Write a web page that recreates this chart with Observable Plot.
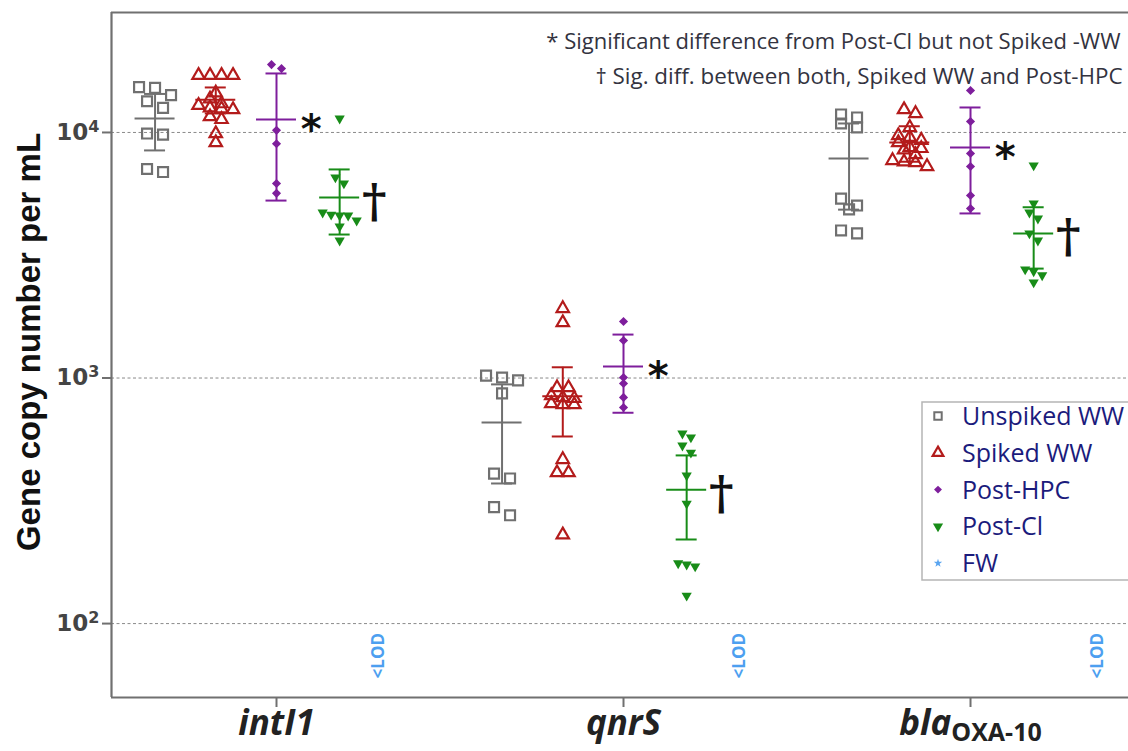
<!DOCTYPE html>
<html><head><meta charset="utf-8">
<script src="https://cdn.jsdelivr.net/npm/d3@7"></script>
<script src="https://cdn.jsdelivr.net/npm/@observablehq/plot@0.6"></script>
<style>
body{margin:0;background:#fff;}
#chart{position:relative;width:1128px;height:751px;overflow:hidden;background:#fff;}
</style></head><body><div id="chart"></div>
<script>
// ---------------- DATA ----------------
const genes = ["intI1", "qnrS", "blaOXA-10"];
const seriesNames = ["Unspiked WW", "Spiked WW", "Post-HPC", "Post-Cl", "FW"];
const yTicks = [100, 1000, 10000];
const yTickLabels = ["10²", "10³", "10⁴"];

// individual measurements (gene copies / mL)
const intI1Unspiked = [15300, 15200, 14200, 13400, 12600, 9900, 9800, 7100, 6900];
const intI1Spiked   = [17100, 17100, 17100, 17100, 14500, 13700, 13100, 12900, 12600, 12500, 12400, 11600, 11300, 9900, 9100];
const intI1HPC      = [18900, 18200, 10200, 9000, 6200, 5650];
const intI1Cl       = [11400, 6560, 6200, 4720, 4630, 4590, 4590, 4380, 4140, 3630];

const qnrSUnspiked  = [1023, 1005, 978, 866, 408, 390, 298, 276];
const qnrSSpiked    = [1920, 1683, 914, 914, 849, 832, 826, 787, 780, 780, 466, 412, 412, 230];
const qnrSHPC       = [1698, 1421, 1005, 950, 834, 759];
const qnrSCl        = [594, 573, 531, 497, 401, 308, 176, 174, 171, 130];

const blaUnspiked   = [11840, 11510, 10880, 10480, 5380, 5040, 4860, 3990, 3880];
const blaSpiked     = [12400, 11950, 10480, 9720, 9550, 9300, 9100, 8690, 8610, 8500, 8130, 7690, 7600, 7540, 7270];
const blaHPC        = [14830, 11090, 8210, 7270, 5540, 4900];
const blaCl         = [7340, 5140, 4720, 4460, 3880, 3630, 2770, 2720, 2620, 2450];

// summary: mean and mean ± SD, per gene [intI1, qnrS, bla]
const unspikedMean = [11400, 659, 7830];
const unspikedLow  = [8450, 372, 4850];
const unspikedHigh = [14350, 942, 10880];
const spikedMean   = [13600, 842, 9100];
const spikedLow    = [11950, 578, 7600];
const spikedHigh   = [15250, 1106, 10600];
const hpcMean      = [11300, 1114, 8690];
const hpcLow       = [5280, 722, 4680];
const hpcHigh      = [17390, 1503, 12640];
const clMean       = [5430, 351, 3880];
const clLow        = [3840, 220, 2790];
const clHigh       = [7070, 484, 4960];

// significance markers
const sigSeries  = ["Post-HPC", "Post-Cl"];
const sigSymbols = ["*", "†"];
const noteLines = ["* Significant difference from Post-Cl but not Spiked -WW",
                   "† Sig. diff. between both, Spiked WW and Post-HPC"];
const lodLabel = "<LOD";
const yLabel = "Gene copy number per mL";

// ---------------- LAYOUT / STYLE ----------------
const W = 1128, H = 751;
const mL = 111, mR = 0, mT = 12, mB = 54;
const yMin = 50, yMax = 30800;
const xMin = -0.4755, xMax = 2.4553;
const colors = ["#707070", "#b31b1b", "#7e1e9c", "#188c18", "#5aa5f0"];
const seriesOffset = [-0.35, -0.175, 0, 0.182];
const lodOffset = [0.295, 0.335, 0.367];
const lodY = 74;

const downTriangle = {
  draw(ctx, size) {
    const a = Math.sqrt(size * 4 / Math.sqrt(3));
    const h = a * Math.sqrt(3) / 2;
    ctx.moveTo(-a / 2, -h / 3);
    ctx.lineTo(a / 2, -h / 3);
    ctx.lineTo(0, 2 * h / 3);
    ctx.closePath();
  }
};
const symbolSpec = [
  {symbol: "square", r: 5.6, fill: "none", strokeWidth: 2.2, spacing: 16, rowH: 9},
  {symbol: "triangle", r: 4.6, fill: "none", strokeWidth: 2.2, spacing: 11.5, rowH: 6},
  {symbol: "diamond2", r: 4.1, fill: colors[2], strokeWidth: 0, spacing: 10, rowH: 5},
  {symbol: downTriangle, r: 3.8, fill: colors[3], strokeWidth: 0, spacing: 8.5, rowH: 8}
];

const valuesBy = [
  [intI1Unspiked, qnrSUnspiked, blaUnspiked],
  [intI1Spiked, qnrSSpiked, blaSpiked],
  [intI1HPC, qnrSHPC, blaHPC],
  [intI1Cl, qnrSCl, blaCl]
];
const meansBy = [unspikedMean, spikedMean, hpcMean, clMean];
const lowsBy = [unspikedLow, spikedLow, hpcLow, clLow];
const highsBy = [unspikedHigh, spikedHigh, hpcHigh, clHigh];

const innerH = H - mT - mB;
const py = v => mT + (Math.log10(yMax) - Math.log10(v)) / (Math.log10(yMax) - Math.log10(yMin)) * innerH;
const pxPerUnit = (W - mL - mR) / (xMax - xMin);

// Prism-like column scatter: rows of near-equal values spread symmetrically
function columnScatter(values, spacing, rowH) {
  const pts = values.map(v => ({v, y: py(v)})).sort((a, b) => a.y - b.y);
  const rows = [];
  for (const p of pts) {
    const row = rows[rows.length - 1];
    if (row && p.y - row[0].y < rowH) row.push(p); else rows.push([p]);
  }
  for (const row of rows) row.forEach((p, j) => p.off = (j - (row.length - 1) / 2) * spacing);
  return pts;
}

const points = [];
const summary = [];
seriesNames.slice(0, 4).forEach((s, si) => {
  genes.forEach((g, gi) => {
    const cx = gi + seriesOffset[si];
    columnScatter(valuesBy[si][gi], symbolSpec[si].spacing, symbolSpec[si].rowH).forEach(p => {
      points.push({series: s, si, gene: g, value: p.v, x: cx + p.off / pxPerUnit});
    });
    summary.push({series: s, si, gene: g, cx, mean: meansBy[si][gi], lo: lowsBy[si][gi], hi: highsBy[si][gi]});
  });
});
const sigData = [];
sigSeries.forEach((s, k) => {
  summary.filter(d => d.series === s).forEach(d => sigData.push({x: d.cx + 0.1, y: d.mean, text: sigSymbols[k]}));
});
const lodData = genes.map((g, i) => ({x: i + lodOffset[i], y: lodY, text: lodLabel}));

const meanHalf = 20 / pxPerUnit, capHalf = 10.5 / pxPerUnit;

const marks = [
  Plot.gridY(yTicks, {stroke: "#8a8a8a", strokeOpacity: 1, strokeDasharray: "3,2.5", strokeWidth: 1}),
  Plot.ruleY([yMin, yMax], {stroke: "#707070", strokeWidth: 2.2}),
  Plot.ruleX([xMin], {stroke: "#707070", strokeWidth: 2.2}),
  Plot.axisY({ticks: yTicks, tickFormat: d => yTickLabels[yTicks.indexOf(d)], tickSize: 9, tickPadding: 3,
              fontSize: 23, fontWeight: "bold", fontFamily: "DejaVu Sans", color: "#444", label: null}),
  Plot.axisX({ticks: [0, 1, 2], tickFormat: i => genes[i], tickSize: 10, tickPadding: 3,
              fontSize: 35, fontWeight: "bold", fontStyle: "italic", fontFamily: "Open Sans", color: "#222", label: null})
];
// error bars: SD whisker, mean line, caps
marks.push(
  Plot.ruleX(summary, {x: "cx", y1: "lo", y2: "hi", stroke: d => colors[d.si], strokeWidth: 2}),
  Plot.ruleY(summary, {y: "mean", x1: d => d.cx - meanHalf, x2: d => d.cx + meanHalf, stroke: d => colors[d.si], strokeWidth: 2}),
  Plot.ruleY(summary, {y: "lo", x1: d => d.cx - capHalf, x2: d => d.cx + capHalf, stroke: d => colors[d.si], strokeWidth: 2}),
  Plot.ruleY(summary, {y: "hi", x1: d => d.cx - capHalf, x2: d => d.cx + capHalf, stroke: d => colors[d.si], strokeWidth: 2})
);
symbolSpec.forEach((sp, si) => {
  const data = points.filter(d => d.si === si);
  marks.push(Plot.dot(data, {
    x: "x", y: "value", symbol: sp.symbol, r: sp.r,
    fill: sp.fill, stroke: sp.fill === "none" ? colors[si] : "none", strokeWidth: sp.strokeWidth
  }));
});
marks.push(
  Plot.text(sigData.filter(d => d.text === "*"), {x: "x", y: "y", text: "text", fontSize: 40, fontWeight: "bold",
    fontFamily: "DejaVu Sans", fill: "#111", dy: 11}),
  Plot.text(sigData.filter(d => d.text !== "*"), {x: "x", y: "y", text: "text", fontSize: 47, fontWeight: "bold",
    fontFamily: "DejaVu Serif", fill: "#111", dy: 4}),
  Plot.text(lodData, {x: "x", y: "y", text: "text", rotate: -90, fontSize: 17, fontWeight: "bold",
    fontFamily: "Open Sans", fill: "#4d9ff0"}),
  Plot.text([noteLines[0]], {frameAnchor: "top-right", text: d => d, dx: -8, dy: 21, fontSize: 22,
    fontFamily: "Open Sans", fill: "#333340", textAnchor: "end"}),
  Plot.text([noteLines[1]], {frameAnchor: "top-right", text: d => d, dx: -6, dy: 56, fontSize: 22.4,
    fontFamily: "Open Sans", fill: "#333340", textAnchor: "end"})
);

const svg = Plot.plot({
  width: W, height: H,
  marginLeft: mL, marginRight: mR, marginTop: mT, marginBottom: mB,
  x: {domain: [xMin, xMax]},
  y: {type: "log", domain: [yMin, yMax]},
  style: {background: "#fff", fontFamily: "Open Sans", overflow: "visible"},
  marks
});

const root = d3.select(svg);
// axis tick colours
root.selectAll('g[aria-label="x-axis tick"] path, g[aria-label="x-axis tick"] line').attr("stroke", "#707070").attr("stroke-width", 2);
root.selectAll('g[aria-label="y-axis tick"] path, g[aria-label="y-axis tick"] line').attr("stroke", "#707070").attr("stroke-width", 2);
// y tick labels: real superscript tspans
const supMap = {"²": "2", "³": "3", "⁴": "4"};
root.selectAll('g[aria-label="y-axis tick label"] text').each(function () {
  const s = this.textContent;
  const last = s.slice(-1);
  if (!(last in supMap)) return;
  const t = d3.select(this);
  t.text(null);
  t.append("tspan").text(s.slice(0, -1));
  t.append("tspan").attr("dy", -8).attr("font-size", 16).text(supMap[last]);
});
// subscript for bla OXA-10
root.selectAll("text").filter(function () { return this.textContent === "blaOXA-10"; }).each(function () {
  const t = d3.select(this);
  t.text(null);
  t.append("tspan").text("bla");
  t.append("tspan").attr("dy", 6).attr("font-size", 25).attr("font-style", "normal").text("OXA-10");
});

// y-axis title
root.append("text")
  .attr("transform", "translate(40,342) rotate(-90)")
  .attr("text-anchor", "middle")
  .attr("font-family", "Liberation Sans, Arial, sans-serif")
  .attr("font-weight", "bold").attr("font-size", 33).attr("fill", "#111")
  .text(yLabel);

// legend
const lg = root.append("g").attr("text-anchor", "start");
lg.append("rect").attr("x", 922).attr("y", 402).attr("width", 240).attr("height", 178)
  .attr("fill", "#fff").attr("stroke", "#b5b5b5").attr("stroke-width", 1.5);
const legendSym = [
  {type: d3.symbolSquare, size: 55, fill: "none", stroke: colors[0], sw: 2},
  {type: d3.symbolTriangle, size: 50, fill: "none", stroke: colors[1], sw: 2.2},
  {type: d3.symbolDiamond2, size: 40, fill: colors[2], stroke: "none", sw: 0},
  {type: downTriangle, size: 45, fill: colors[3], stroke: "none", sw: 0},
  {type: d3.symbolStar, size: 22, fill: colors[4], stroke: "none", sw: 0}
];
seriesNames.forEach((name, i) => {
  const cy = 416 + i * 36.8;
  const s = legendSym[i];
  lg.append("path").attr("transform", `translate(938,${cy})`)
    .attr("d", d3.symbol(s.type, s.size)())
    .attr("fill", s.fill).attr("stroke", s.stroke).attr("stroke-width", s.sw);
  lg.append("text").attr("x", 962).attr("y", cy).attr("dy", "0.36em").attr("text-anchor", "start")
    .attr("font-family", "Open Sans").attr("font-size", 25).attr("fill", "#1b1b7c").text(name);
});

document.getElementById("chart").appendChild(svg);
</script></body></html>
